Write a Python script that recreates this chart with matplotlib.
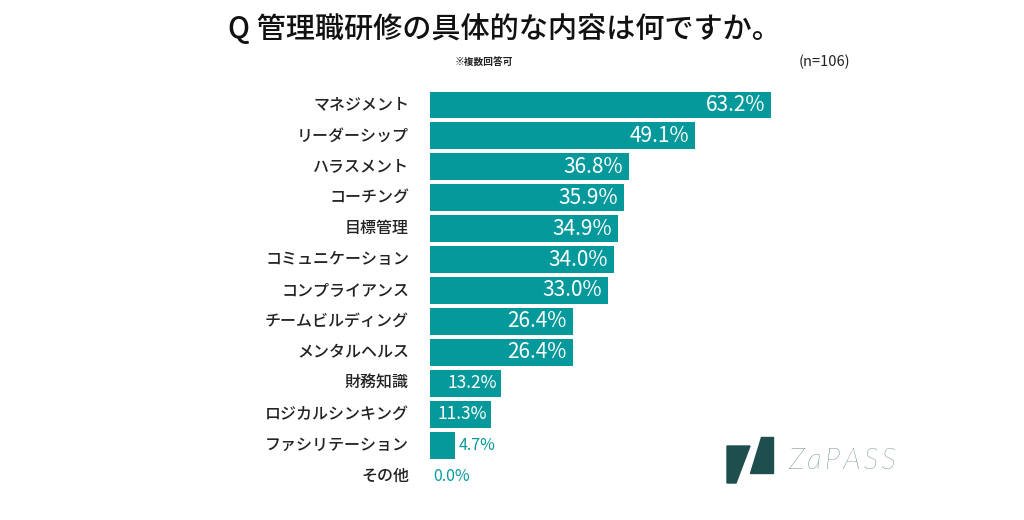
import matplotlib.pyplot as plt
from matplotlib.patches import Polygon

plt.rcParams['font.family'] = ['Noto Sans CJK JP', 'DejaVu Sans']

categories = ['マネジメント', 'リーダーシップ', 'ハラスメント', 'コーチング', '目標管理',
              'コミュニケーション', 'コンプライアンス', 'チームビルディング', 'メンタルヘルス',
              '財務知識', 'ロジカルシンキング', 'ファシリテーション', 'その他']
values = [63.2, 49.1, 36.8, 35.9, 34.9, 34.0, 33.0, 26.4, 26.4, 13.2, 11.3, 4.7, 0.0]

title = 'Q 管理職研修の具体的な内容は何ですか。'
note = '※複数回答可'
sample = '(n=106)'

teal = '#05999c'
dark = '#1f4e4f'

W, H = 1024, 520
fig = plt.figure(figsize=(W / 100, H / 100), dpi=100, facecolor='white')


def fx(px):
    return px / W


def fy(py):
    return 1 - py / H


ax = fig.add_axes([fx(430), fy(491.5), fx(540), (491.5 - 89.5) / H])
pos = list(range(len(categories)))
ax.barh(pos, values, height=0.87, color=teal)
ax.set_xlim(0, 100)
ax.set_ylim(len(categories) - 0.5, -0.5)
ax.set_axis_off()

for i, (c, v) in enumerate(zip(categories, values)):
    ax.annotate(c, xy=(0, i), xytext=(-21, 0), textcoords='offset pixels',
                ha='right', va='center', fontsize=11.5, fontweight='medium', color='#222222')
    if v >= 20:
        ax.annotate(f'{v:.1f}%', xy=(v, i), xytext=(-6, 0), textcoords='offset pixels',
                    ha='right', va='center', fontsize=15, color='white')
    elif v >= 10:
        ax.annotate(f'{v:.1f}%', xy=(v, i), xytext=(-4, 0), textcoords='offset pixels',
                    ha='right', va='center', fontsize=12.5, color='white')
    else:
        ax.annotate(f'{v:.1f}%', xy=(v, i), xytext=(3, 0), textcoords='offset pixels',
                    ha='left', va='center', fontsize=11.5, color=teal)

fig.text(fx(504), fy(30), title, ha='center', va='center', fontsize=21,
         fontweight='medium', color='#111111')
fig.text(fx(455), fy(62), note, ha='left', va='center', fontsize=7, fontweight='bold', color='#222222')
fig.text(fx(850), fy(62), sample, ha='right', va='center', fontsize=10.5, color='#222222')

# ZaPASS logo
logo1 = [(727, 446), (750, 446), (736, 483), (727, 483)]
logo2 = [(761, 437), (773, 437), (773, 473), (750, 473)]
for shape in (logo1, logo2):
    fig.patches.append(Polygon([(fx(x), fy(y)) for x, y in shape], closed=True,
                               transform=fig.transFigure, color=dark))
fig.text(fx(788), fy(461), '\u2009'.join('ZaPASS'), ha='left', va='center', fontsize=21,
         style='italic', fontweight='light', family=['Lato', 'DejaVu Sans'], color=dark)

fig.savefig('out.png', dpi=100, facecolor='white')
